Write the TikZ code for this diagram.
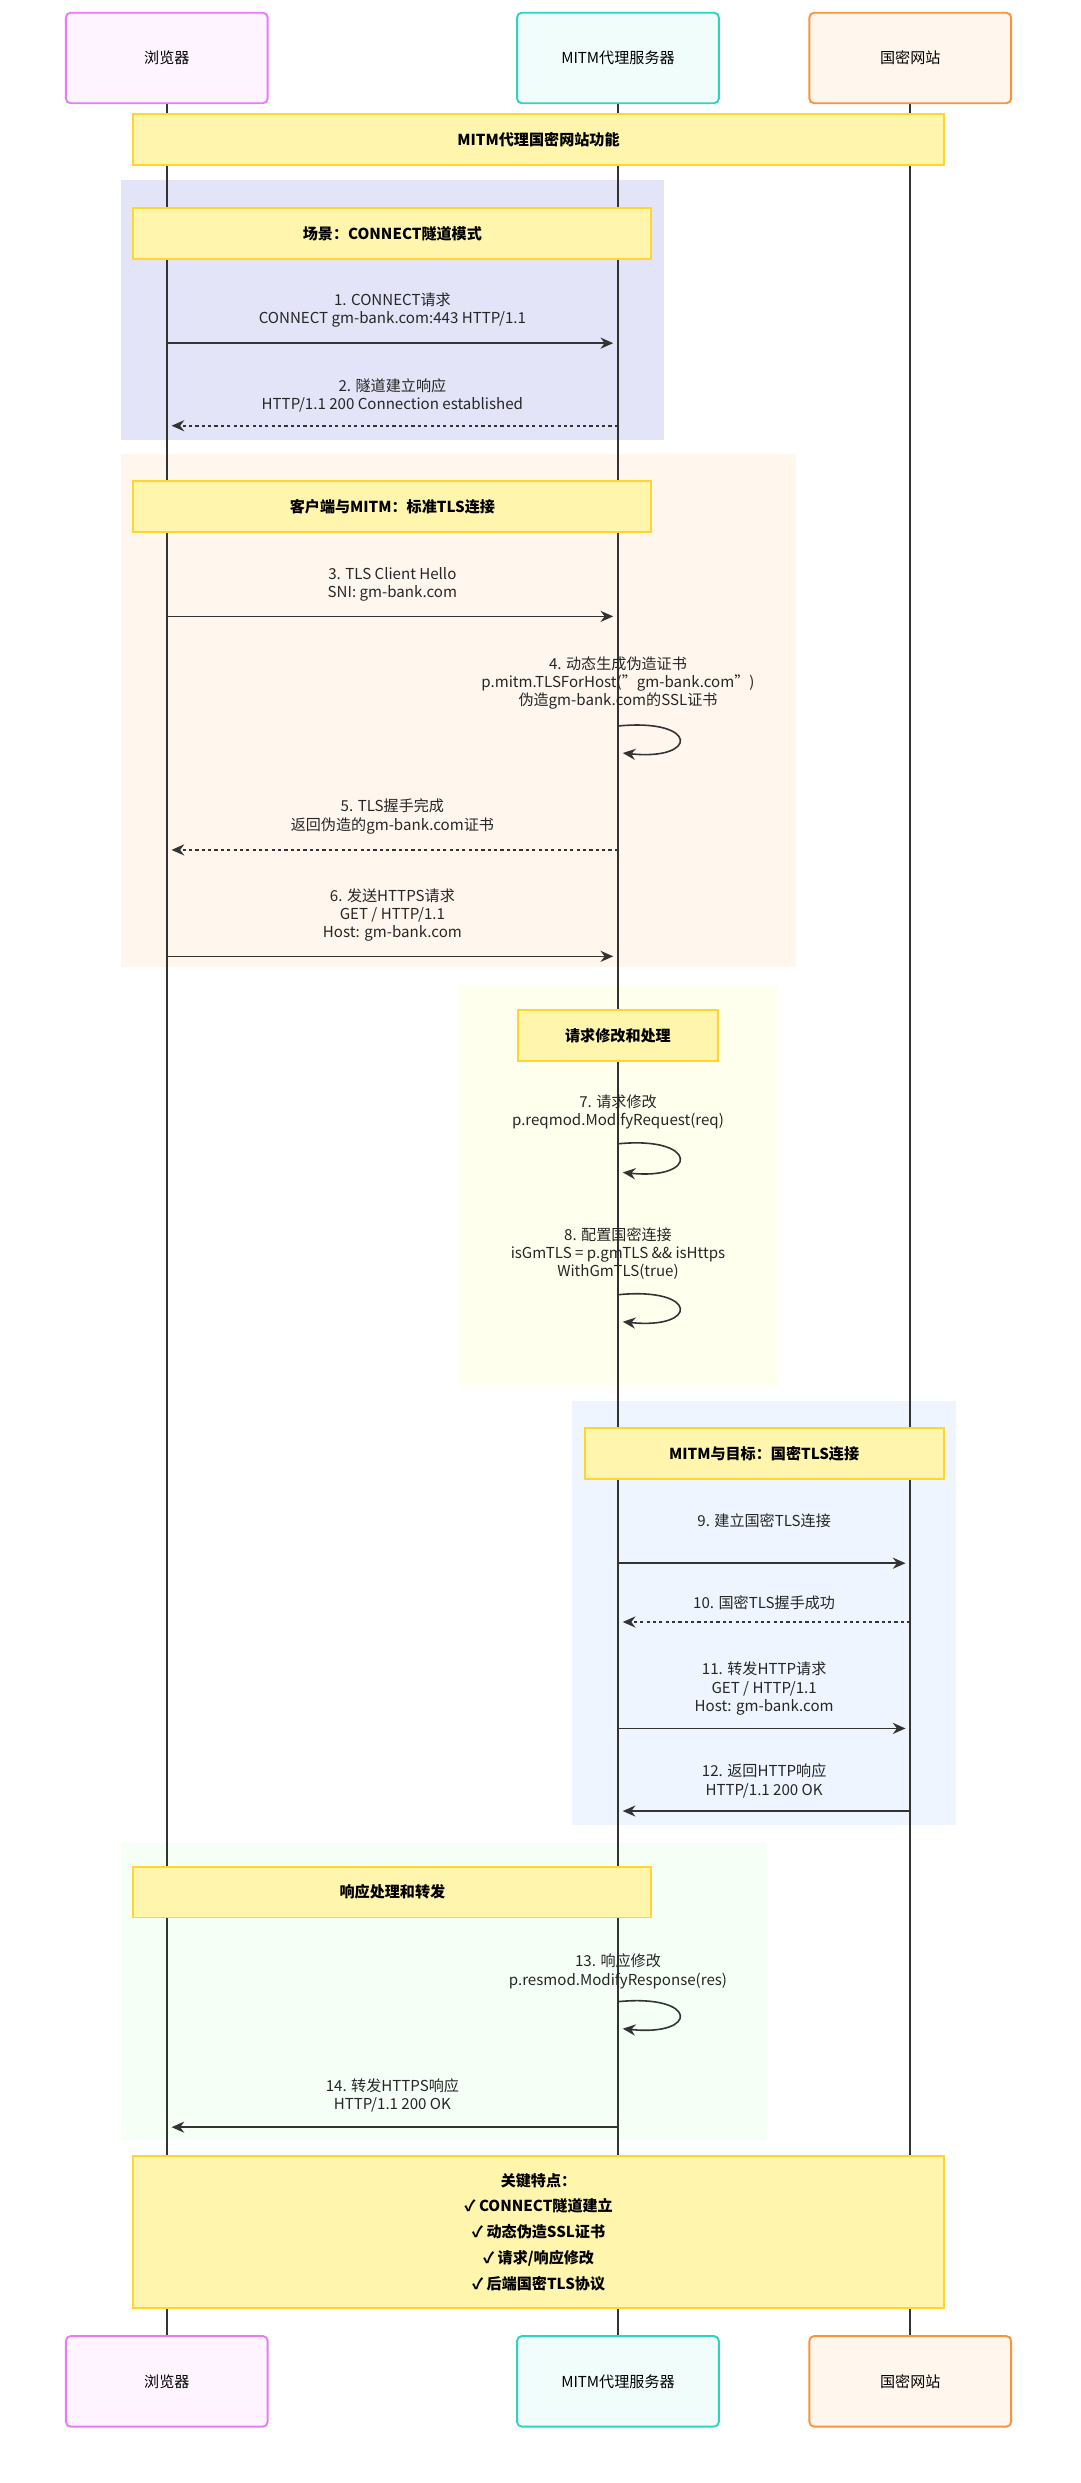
\documentclass[tikz,border=0pt]{standalone}
\usepackage{fontspec}
\setmainfont{Noto Sans CJK SC}
\usetikzlibrary{arrows.meta}
\definecolor{life}{HTML}{333333}
\definecolor{notef}{HTML}{FFF5AD}
\definecolor{noted}{HTML}{FFD52E}
\definecolor{bd}{RGB}{232,121,249}\definecolor{bf}{RGB}{253,244,255}
\definecolor{md}{RGB}{45,212,191}\definecolor{mf}{RGB}{240,253,250}
\definecolor{sd}{RGB}{251,146,60}\definecolor{sf}{RGB}{255,247,237}
\definecolor{g1}{RGB}{228,228,248}\definecolor{g2}{RGB}{255,247,238}
\definecolor{g3}{RGB}{255,255,238}\definecolor{g4}{RGB}{238,245,255}
\definecolor{g5}{RGB}{246,255,246}
\begin{document}
\begin{tikzpicture}[x=1pt,y=-1pt,font=\fontsize{9.5}{11.5}\selectfont,
 actor/.style={draw=#1,line width=1.2pt,rounded corners=3pt,minimum width=127pt,minimum height=57pt,inner sep=0},
 note/.style={draw=noted,fill=notef,line width=1.2pt,minimum height=32pt,inner sep=0,font=\fontsize{9.5}{11.5}\selectfont\bfseries},
 lbl/.style={align=center,inner sep=0,text=black!85},
 msg/.style={draw=life,line width=1pt,-{Stealth[length=8pt,width=7pt]}},
 rmsg/.style={msg,dash pattern=on 2pt off 2pt},
 life/.style={draw=life,line width=1pt}]
\useasboundingbox (0,0) rectangle (680,1563);
\fill[white] (0,0) rectangle (680,1563);
% group boxes
\fill[g1] (76,113) rectangle (418,277);
\fill[g2] (76,286) rectangle (501,609);
\fill[g3] (288,620) rectangle (490,872);
\fill[g4] (360,882) rectangle (602,1149);
\fill[g5] (76,1160) rectangle (483,1347);
% lifelines
\coordinate (bt) at (105,65); \coordinate (bb) at (105,1471);
\coordinate (mt) at (389,65); \coordinate (mb) at (389,1471);
\coordinate (st) at (573,65); \coordinate (sb) at (573,1471);
\draw[life] (bt)--(bb); \draw[life] (mt)--(mb); \draw[life] (st)--(sb);
% actors
\foreach \n/\y in {t/36.5,b/1499}{
\node[actor=bd,fill=bf] (b\n) at (105,\y) {浏览器};
\node[actor=md,fill=mf] (m\n) at (389,\y) {MITM代理服务器};
\node[actor=sd,fill=sf] (s\n) at (573,\y) {国密网站};}
% notes
\node[note,minimum width=510pt] (n0) at (339,88) {MITM代理国密网站功能};
\node[note,minimum width=326pt] (n1) at (247,147) {场景：CONNECT隧道模式};
\node[note,minimum width=326pt] (n2) at (247,319) {客户端与MITM：标准TLS连接};
\node[note,minimum width=126pt] (n3) at (389,652) {请求修改和处理};
\node[note,minimum width=226pt] (n4) at (481,915) {MITM与目标：国密TLS连接};
\node[note,minimum width=326pt] (n5) at (247,1191) {响应处理和转发};
\node[note,minimum width=510pt,minimum height=96pt,align=center,font=\fontsize{9.5}{16.2}\selectfont\bfseries] (n6) at (339,1405) {关键特点：\\✓ CONNECT隧道建立\\✓ 动态伪造SSL证书\\✓ 请求/响应修改\\✓ 后端国密TLS协议};
% messages
\newcommand\hm[4]{\coordinate (#1a) at (#2,#4); \coordinate (#1b) at (#3,#4);}
\hm{a1}{105}{386}{216}\draw[msg] (a1a)--(a1b);
\node[lbl] (l1) at (247,195) {1. CONNECT请求\\CONNECT gm-bank.com:443 HTTP/1.1};
\hm{a2}{389}{108}{268}\draw[rmsg] (a2a)--(a2b);
\node[lbl] (l2) at (247,249) {2. 隧道建立响应\\HTTP/1.1 200 Connection established};
\hm{a3}{105}{386}{388}\draw[msg] (a3a)--(a3b);
\node[lbl] (l3) at (247,368) {3. TLS Client Hello\\SNI: gm-bank.com};
\node[lbl] (l4) at (389,430) {4. 动态生成伪造证书\\p.mitm.TLSForHost("gm-bank.com")\\伪造gm-bank.com的SSL证书};
\coordinate (s4a) at (389,457); \coordinate (s4b) at (392,474);
\draw[msg] (s4a) .. controls (440,452) and (440,479) .. (s4b);
\hm{a5}{389}{108}{535}\draw[rmsg] (a5a)--(a5b);
\node[lbl] (l5) at (247,514) {5. TLS握手完成\\返回伪造的gm-bank.com证书};
\hm{a6}{105}{386}{602}\draw[msg] (a6a)--(a6b);
\node[lbl] (l6) at (247,576) {6. 发送HTTPS请求\\GET / HTTP/1.1\\Host: gm-bank.com};
\node[lbl] (l7) at (389,700) {7. 请求修改\\p.reqmod.ModifyRequest(req)};
\coordinate (s7a) at (389,720); \coordinate (s7b) at (392,738);
\draw[msg] (s7a) .. controls (440,715) and (440,743) .. (s7b);
\node[lbl] (l8) at (389,789) {8. 配置国密连接\\isGmTLS = p.gmTLS \&\& isHttps\\WithGmTLS(true)};
\coordinate (s8a) at (389,815); \coordinate (s8b) at (392,832);
\draw[msg] (s8a) .. controls (440,810) and (440,837) .. (s8b);
\hm{a9}{389}{570}{984}\draw[msg] (a9a)--(a9b);
\node[lbl] (l9) at (481,957) {9. 建立国密TLS连接};
\hm{a10}{573}{392}{1021}\draw[rmsg] (a10a)--(a10b);
\node[lbl] (l10) at (481,1009) {10. 国密TLS握手成功};
\hm{a11}{389}{570}{1088}\draw[msg] (a11a)--(a11b);
\node[lbl] (l11) at (481,1063) {11. 转发HTTP请求\\GET / HTTP/1.1\\Host: gm-bank.com};
\hm{a12}{573}{392}{1140}\draw[msg] (a12a)--(a12b);
\node[lbl] (l12) at (481,1121) {12. 返回HTTP响应\\HTTP/1.1 200 OK};
\node[lbl] (l13) at (389,1241) {13. 响应修改\\p.resmod.ModifyResponse(res)};
\coordinate (s13a) at (389,1260); \coordinate (s13b) at (392,1277);
\draw[msg] (s13a) .. controls (440,1255) and (440,1282) .. (s13b);
\hm{a14}{389}{108}{1339}\draw[msg] (a14a)--(a14b);
\node[lbl] (l14) at (247,1319) {14. 转发HTTPS响应\\HTTP/1.1 200 OK};
\end{tikzpicture}
\end{document}
